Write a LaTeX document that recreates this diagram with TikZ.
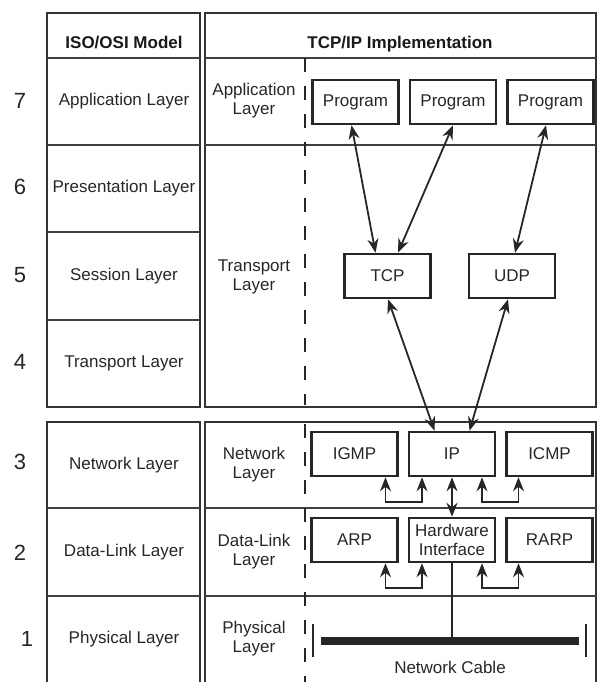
\documentclass[tikz,border=0pt]{standalone}
\usepackage{fontspec}
\setmainfont{Liberation Sans}
\usetikzlibrary{arrows.meta,positioning}

\tikzset{
  tab/.style={draw=black!80, line width=2pt},
  rowline/.style={draw=black!75, line width=1.5pt},
  sep/.style={draw=black!85, line width=2.5pt, dash pattern=on 14pt off 14pt},
  layer/.style={text=black!85, font=\fontsize{17}{19}\selectfont, align=center, inner sep=0pt},
  head/.style={text=black!90, font=\fontsize{17}{19}\selectfont\bfseries, anchor=base, inner sep=0pt},
  num/.style={text=black!85, font=\fontsize{22}{22}\selectfont, inner sep=0pt},
  proto/.style={draw=black!85, line width=2.5pt, minimum width=86pt, minimum height=44pt,
    inner sep=0pt, text=black!85, font=\fontsize{17}{19}\selectfont, align=center},
  link/.style={{Stealth[length=14pt,width=11pt]}-{Stealth[length=14pt,width=11pt]}, draw=black!85, line width=1.8pt},
  wire/.style={draw=black!85, line width=1.8pt},
}

\begin{document}
\begin{tikzpicture}[x=1pt, y=-1pt, node distance=9pt]
  \useasboundingbox (0,0) rectangle (600,682);

  % Tables
  \draw[tab] (47,12.7) rectangle (200,407);
  \draw[tab] (205,12.7) rectangle (596,407);
  \draw[tab] (47,682) |- (200,422) -- (200,682);
  \draw[tab] (205,682) |- (596,422) -- (596,682);
  \foreach \y in {58,145,232,320,508,596}
    \draw[rowline] (47,\y) -- (200,\y);
  \foreach \y in {58,145,508,596}
    \draw[rowline] (205,\y) -- (596,\y);
  \draw[sep] (305,58) -- (305,405);
  \draw[sep] (305,424) -- (305,682);

  % Headings
  \node[head] (osihead) at (124,49) {ISO/OSI Model};
  \node[head] (tcphead) at (400,49) {TCP/IP Implementation};

  % ISO/OSI layers
  \foreach \n/\x/\y/\yt/\t in {7/20/101/101.5/Application Layer, 6/20/187/188.5/Presentation Layer,
      5/20/275/276/Session Layer, 4/20/362/363.5/Transport Layer, 3/20/462/465/Network Layer,
      2/20/553/552/Data-Link Layer, 1/27/639/639/Physical Layer} {
    \node[num] (num\n) at (\x,\y) {\n};
    \node[layer] (osi\n) at (124,\yt) {\t};
  }

  % TCP/IP layers
  \node[layer] (applabel) at (254,101) {Application\\Layer};
  \node[layer] (translabel) at (254,277) {Transport\\Layer};
  \node[layer] (netlabel) at (254,465) {Network\\Layer};
  \node[layer] (linklabel) at (254,552) {Data-Link\\Layer};
  \node[layer] (phylabel) at (254,639) {Physical\\Layer};

  % Protocols
  \node[proto] (prog1) at (355.5,102) {Program};
  \node[proto, right=of prog1] (prog2) {Program};
  \node[proto, right=of prog2] (prog3) {Program};
  \node[proto] (tcp) at (387.5,276) {TCP};
  \node[proto] (udp) at (512,276) {UDP};
  \node[proto] (igmp) at (354.5,454) {IGMP};
  \node[proto, right=of igmp] (ip) {IP};
  \node[proto, right=of ip] (icmp) {ICMP};
  \node[proto] (arp) at (354.5,540) {ARP};
  \node[proto, right=of arp] (hw) {Hardware\\Interface};
  \node[proto, right=of hw] (rarp) {RARP};

  % Network cable
  \node[fill=black!85, minimum width=258pt, minimum height=8pt, inner sep=0pt] (cable) at (450,641) {};
  \draw[wire] (313,624) -- (313,657);
  \draw[wire] (586,624) -- (586,657);
  \node[layer] (cablelabel) at (450,667) {Network Cable};

  % Links
  \draw[link] ([xshift=-4pt]prog1.south) -- ([xshift=-12pt]tcp.north);
  \draw[link] (prog2.south) -- ([xshift=10.5pt]tcp.north);
  \draw[link] ([xshift=-4.5pt]prog3.south) -- ([xshift=3pt]udp.north);
  \draw[link] ([xshift=0.5pt]tcp.south) -- ([xshift=-17.5pt]ip.north);
  \draw[link] ([xshift=-4pt]udp.south) -- ([xshift=17.5pt]ip.north);
  \draw[link] ([xshift=31pt]igmp.south) -- ++(0,25) -| ([xshift=-30pt]ip.south);
  \draw[link] ([xshift=30pt]ip.south) -- ++(0,25) -| ([xshift=-31pt]icmp.south);
  \draw[link] (ip) -- (hw);
  \draw[link] ([xshift=31pt]arp.south) -- ++(0,25) -| ([xshift=-30pt]hw.south);
  \draw[link] ([xshift=30pt]hw.south) -- ++(0,25) -| ([xshift=-31pt]rarp.south);
  \draw[wire] (hw.south) -- (hw.south |- cable.north);
\end{tikzpicture}
\end{document}
